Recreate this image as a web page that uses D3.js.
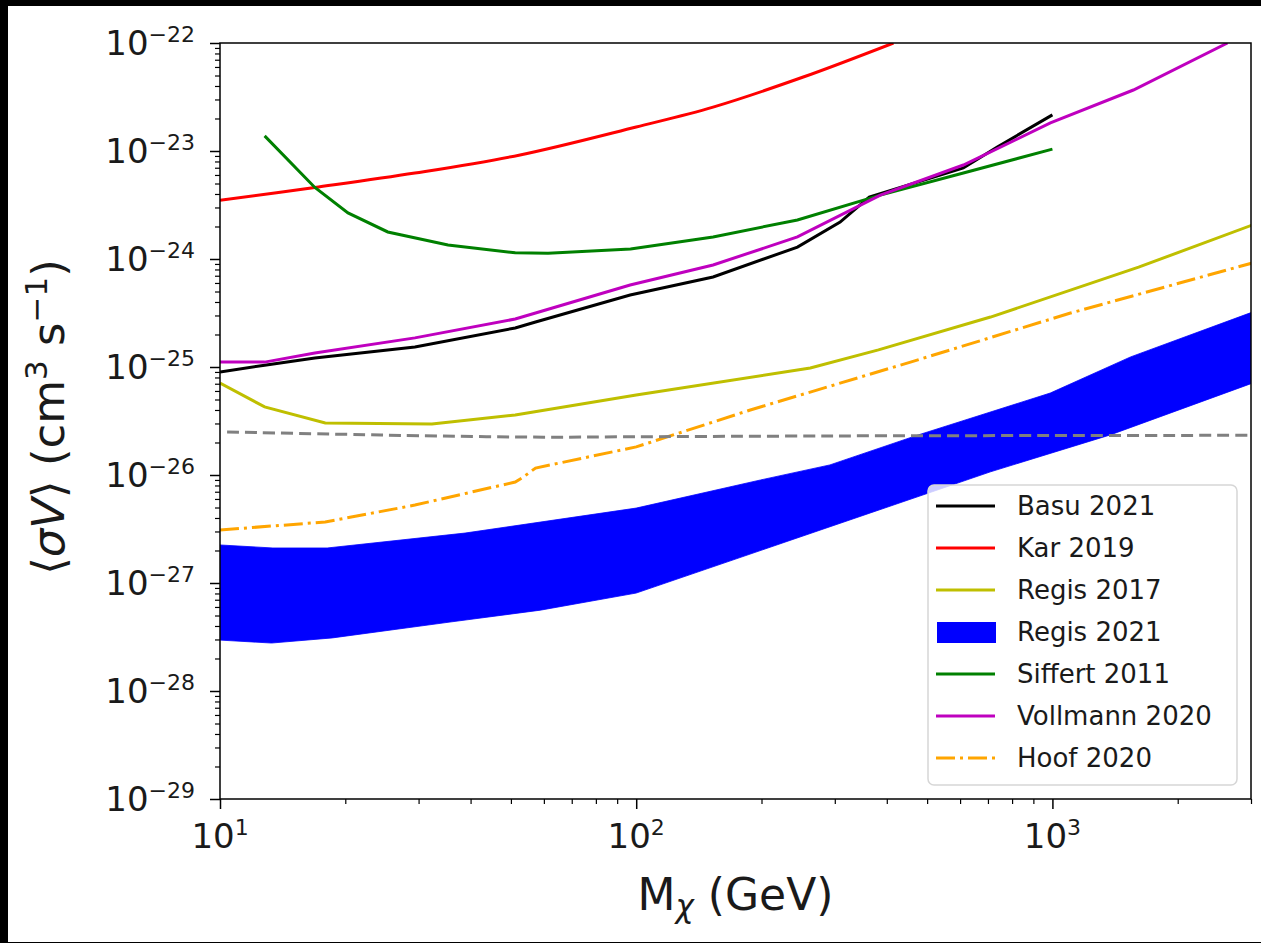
<!DOCTYPE html>
<html>
<head>
<meta charset="utf-8">
<script src="https://cdn.jsdelivr.net/npm/d3@7"></script>
<style>
body { margin: 0; background: #000; }
svg { display: block; font-family: "DejaVu Sans", sans-serif; }
</style>
</head>
<body>
<div id="chart"></div>
<script>
// values: mass in GeV, <sigma v> in cm^3 s^-1
const basuMass = [10, 12.8, 16.9, 29.4, 51.2, 57.3, 96.7, 153, 244, 309, 363, 611, 737, 1000];
const basuSigv = [9.0e-26, 1.04e-25, 1.21e-25, 1.53e-25, 2.30e-25, 2.61e-25, 4.64e-25, 6.81e-25, 1.29e-24, 2.20e-24, 3.75e-24, 6.97e-24, 1.09e-23, 2.16e-23];

const karMass = [10, 16.9, 29.4, 52.6, 100, 153, 252, 415];
const karSigv = [3.5e-24, 4.6e-24, 6.25e-24, 9.2e-24, 1.67e-23, 2.55e-23, 4.84e-23, 1.0e-22];

const regis17Mass = [10, 12.8, 17.9, 32.3, 51.2, 100, 262, 382, 710, 1611, 3027];
const regis17Sigv = [7.1e-26, 4.27e-26, 3.03e-26, 2.97e-26, 3.6e-26, 5.5e-26, 9.8e-26, 1.44e-25, 2.9e-25, 8.4e-25, 2.07e-24];

const regis21UpperMass = [10, 13.4, 18.1, 38.8, 100, 199, 292, 476, 988, 1541, 3027];
const regis21Upper = [2.25e-27, 2.11e-27, 2.11e-27, 2.9e-27, 4.94e-27, 9.0e-27, 1.24e-26, 2.35e-26, 5.74e-26, 1.24e-25, 3.23e-25];
const regis21LowerMass = [10, 13.3, 18.6, 35.7, 58.8, 100, 365, 710, 1377, 3027];
const regis21Lower = [2.96e-28, 2.78e-28, 3.10e-28, 4.35e-28, 5.6e-28, 8.07e-28, 4.45e-27, 1.07e-26, 2.35e-26, 7.1e-26];

const siffertMass = [12.8, 16.9, 20.3, 25.3, 35.3, 51.2, 61.4, 96.9, 153, 244, 386, 611, 1000];
const siffertSigv = [1.38e-23, 4.6e-24, 2.67e-24, 1.78e-24, 1.35e-24, 1.14e-24, 1.13e-24, 1.24e-24, 1.6e-24, 2.3e-24, 3.9e-24, 6.25e-24, 1.04e-23];

const vollmannMass = [10, 12.8, 16.9, 29.4, 51.2, 57.3, 96.7, 153, 244, 386, 611, 989, 1565, 2634];
const vollmannSigv = [1.11e-25, 1.11e-25, 1.35e-25, 1.86e-25, 2.78e-25, 3.16e-25, 5.74e-25, 8.8e-25, 1.6e-24, 3.91e-24, 7.42e-24, 1.82e-23, 3.67e-23, 1.0e-22];

const hoofMass = [10, 17.9, 29.4, 51.2, 53.2, 57.3, 100, 188, 456, 1105, 3027];
const hoofSigv = [3.1e-27, 3.67e-27, 5.27e-27, 8.6e-27, 9.4e-27, 1.16e-26, 1.82e-26, 4.0e-26, 1.11e-25, 3.16e-25, 9.2e-25];

const relicMass = [10.4, 20, 30, 60, 100, 300, 1000, 3000];
const relicSigv = [2.5e-26, 2.38e-26, 2.31e-26, 2.24e-26, 2.26e-26, 2.3e-26, 2.32e-26, 2.33e-26];

const xMajor = [10, 100, 1000];
const yMajor = [1e-22, 1e-23, 1e-24, 1e-25, 1e-26, 1e-27, 1e-28, 1e-29];
const legendNames = ["Basu 2021", "Kar 2019", "Regis 2017", "Regis 2021", "Siffert 2011", "Vollmann 2020", "Hoof 2020"];

// layout
const margin = {top: 43, left: 220};
const width = 1031;
const height = 756;

const svg = d3.select("#chart")
    .append("svg")
    .attr("width", 1261)
    .attr("height", 943);

// white figure area (the screenshot has a black frame top/left)
svg.append("rect")
    .attr("x", 8).attr("y", 6)
    .attr("width", 1253).attr("height", 936)
    .attr("fill", "#fff");

const g = svg.append("g")
    .attr("transform", "translate(" + margin.left + "," + margin.top + ")");

// Set the ranges
const x = d3.scaleLog().domain([10, 3000]).range([0, width]);
const y = d3.scaleLog().domain([1e-29, 1e-22]).range([height, 0]);

g.append("clipPath").attr("id", "plotClip")
    .append("rect").attr("width", width).attr("height", height);

const plot = g.append("g").attr("clip-path", "url(#plotClip)");

const zip = (a, b) => a.map((m, i) => [m, b[i]]);
const line = d3.line().x(d => x(d[0])).y(d => y(d[1]));
const smooth = d3.line().x(d => x(d[0])).y(d => y(d[1])).curve(d3.curveCatmullRom.alpha(0.5));

const series = [
    {mass: basuMass, sigv: basuSigv, color: "#000000", gen: line},
    {mass: karMass, sigv: karSigv, color: "#ff0000", gen: smooth},
    {mass: regis17Mass, sigv: regis17Sigv, color: "#bfbf00", gen: line}
];

series.forEach(s => {
    plot.append("path")
        .attr("d", s.gen(zip(s.mass, s.sigv)))
        .attr("fill", "none")
        .attr("stroke", s.color)
        .attr("stroke-width", 3);
});

// Regis 2021 band: upper edge left to right, lower edge back right to left
const band = zip(regis21UpperMass, regis21Upper)
    .concat(zip(regis21LowerMass, regis21Lower).reverse());
plot.append("path")
    .attr("d", line(band) + "Z")
    .attr("fill", "#0000ff")
    .attr("stroke", "#0000ff")
    .attr("stroke-width", 0.8);

const series2 = [
    {mass: siffertMass, sigv: siffertSigv, color: "#008000", dash: null, gen: line},
    {mass: vollmannMass, sigv: vollmannSigv, color: "#bf00bf", dash: null, gen: line},
    {mass: hoofMass, sigv: hoofSigv, color: "#ffa500", dash: "19,5,3,5", gen: line},
    {mass: relicMass, sigv: relicSigv, color: "#808080", dash: "12,6", gen: smooth}
];

series2.forEach(s => {
    plot.append("path")
        .attr("d", s.gen(zip(s.mass, s.sigv)))
        .attr("fill", "none")
        .attr("stroke", s.color)
        .attr("stroke-width", 3)
        .attr("stroke-dasharray", s.dash);
});

// minor tick values
const xMinor = [];
[10, 100, 1000].forEach(b => d3.range(2, 10).forEach(k => { if (b * k <= 3000) xMinor.push(b * k); }));
const yMinor = [];
d3.range(-29, -22).forEach(e => d3.range(2, 10).forEach(k => yMinor.push(k * Math.pow(10, e))));

// Add the axes (ticks only, labels done by hand for the superscripts)
function ticks(axis, vals, size, w) {
    return sel => {
        sel.call(axis.tickValues(vals).tickSize(size).tickFormat(""));
        sel.select(".domain").remove();
        sel.selectAll("line").attr("stroke", "#000").attr("stroke-width", w);
    };
}
g.append("g").attr("transform", "translate(0," + height + ")").call(ticks(d3.axisBottom(x), xMinor, 5, 1.2));
g.append("g").attr("transform", "translate(0," + height + ")").call(ticks(d3.axisBottom(x), xMajor, 10, 1.5));
g.append("g").call(ticks(d3.axisLeft(y), yMinor, 5, 1.2));
g.append("g").call(ticks(d3.axisLeft(y), yMajor, 10, 1.5));

// frame
g.append("rect")
    .attr("width", width).attr("height", height)
    .attr("fill", "none")
    .attr("stroke", "#000")
    .attr("stroke-width", 1.5);

// tick labels
xMajor.forEach(v => {
    const t = g.append("text")
        .attr("x", x(v)).attr("y", height + 49)
        .attr("text-anchor", "middle")
        .attr("font-size", 34)
        .attr("fill", "#1a1a1a");
    t.append("tspan").text("10");
    t.append("tspan").attr("dy", -13).attr("font-size", 22).text(Math.round(Math.log10(v)));
});
yMajor.forEach(v => {
    const t = g.append("text")
        .attr("x", -25).attr("y", y(v) + 12)
        .attr("text-anchor", "end")
        .attr("font-size", 34)
        .attr("fill", "#1a1a1a");
    t.append("tspan").text("10");
    t.append("tspan").attr("dy", -13).attr("font-size", 22).text("\u2212" + Math.abs(Math.round(Math.log10(v))));
});

// x axis label
const xl = svg.append("text")
    .attr("x", margin.left + width / 2).attr("y", 910)
    .attr("text-anchor", "middle")
    .attr("font-size", 44)
    .attr("fill", "#1a1a1a");
xl.append("tspan").text("M");
xl.append("tspan").attr("dy", 7).attr("font-size", 31).attr("font-style", "italic").text("\u03c7");
xl.append("tspan").attr("dy", -7).text(" (GeV)");

// y axis label
const yl = svg.append("text")
    .attr("transform", "translate(64," + (margin.top + height / 2 - 4) + ") rotate(-90)")
    .attr("text-anchor", "middle")
    .attr("font-size", 45)
    .attr("fill", "#1a1a1a");
yl.append("tspan").text("\u27e8");
yl.append("tspan").attr("font-style", "italic").text("\u03c3V");
yl.append("tspan").text("\u27e9 (cm");
yl.append("tspan").attr("dy", -17).attr("font-size", 31).text("3");
yl.append("tspan").attr("dy", 17).text(" s");
yl.append("tspan").attr("dy", -17).attr("font-size", 31).text("\u22121");
yl.append("tspan").attr("dy", 17).text(")");

// legend
const lg = svg.append("g");
lg.append("rect")
    .attr("x", 928).attr("y", 485)
    .attr("width", 309).attr("height", 300)
    .attr("rx", 6)
    .attr("fill", "#fff").attr("fill-opacity", 0.8)
    .attr("stroke", "#d6d6d6").attr("stroke-width", 1.5);

const legendStyle = [
    {color: "#000000"}, {color: "#ff0000"}, {color: "#bfbf00"},
    {color: "#0000ff", patch: true}, {color: "#008000"}, {color: "#bf00bf"},
    {color: "#ffa500", dash: "19,5,3,5"}
];
legendNames.forEach((name, i) => {
    const cy = 506 + i * 42;
    const st = legendStyle[i];
    if (st.patch) {
        lg.append("rect").attr("x", 937).attr("y", cy - 10)
            .attr("width", 59).attr("height", 21).attr("fill", st.color);
    } else {
        lg.append("line").attr("x1", 936).attr("x2", 995)
            .attr("y1", cy).attr("y2", cy)
            .attr("stroke", st.color).attr("stroke-width", 3)
            .attr("stroke-dasharray", st.dash || null);
    }
    lg.append("text").attr("x", 1017).attr("y", cy + 9)
        .attr("font-size", 26).attr("fill", "#1a1a1a").text(name);
});
</script>
</body>
</html>
